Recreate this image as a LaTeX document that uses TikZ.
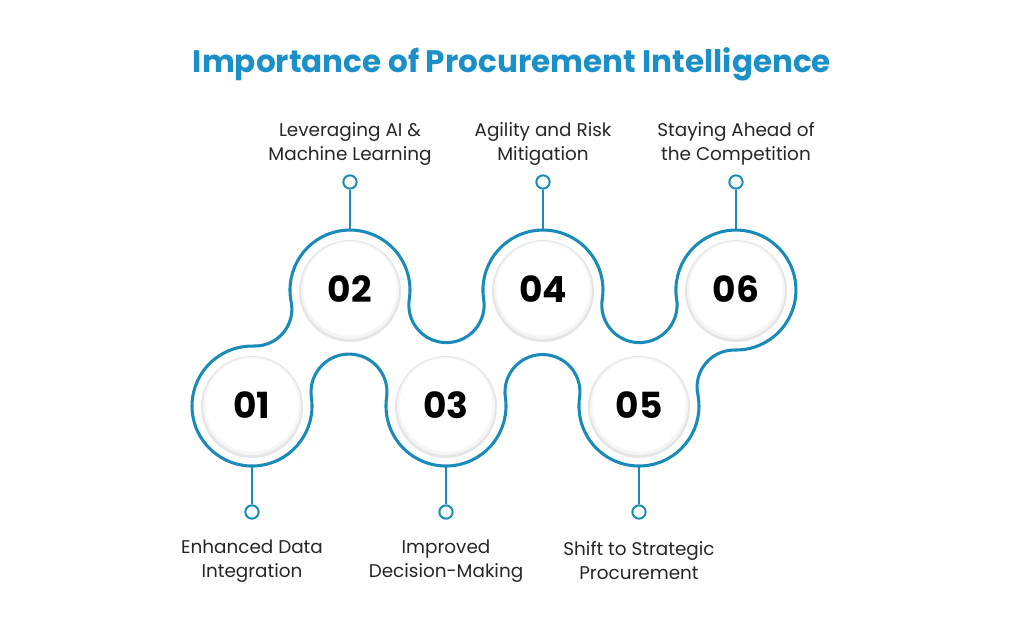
\documentclass[tikz,border=0pt]{standalone}
\usepackage{fontspec}
\setmainfont{Poppins}
\definecolor{snakeblue}{HTML}{1A8AB8}
\definecolor{titleblue}{HTML}{1B8FC7}
\tikzset{every picture/.style={line width=0.75pt}}
\tikzset{
  numdisc/.style={circle,fill=white,minimum size=70pt,inner sep=0pt},
  pin/.style={circle,draw=snakeblue,fill=white,line width=1.5pt,minimum size=10pt,inner sep=0pt},
  stem/.style={draw=snakeblue,line width=2pt},
  band/.style={draw=snakeblue,line width=2.3pt},
  lbl/.style={align=center,font=\fontsize{13.8}{18}\selectfont\mdseries,text=black!85,inner sep=0.75pt}
}
\begin{document}
\begin{tikzpicture}[x=0.75pt,y=0.75pt,yscale=-1,xscale=1]
	\useasboundingbox (0,0) rectangle (1024,627);
	
	% Title
	\node[font=\fontsize{23.3}{25}\selectfont\bfseries,text=titleblue] (title) at (512,64) {Importance of Procurement Intelligence};
	
	%Shape: snake outline
	\draw[band] (252,406) ++(271.7:60)
		arc[start angle=91.7,end angle=-11.3,radius=37]
		arc[start angle=168.7,end angle=368.8,radius=60]
		arc[start angle=188.8,end angle=-8.8,radius=37.64]
		arc[start angle=171.2,end angle=368.8,radius=60]
		arc[start angle=188.8,end angle=-8.8,radius=37.64]
		arc[start angle=171.2,end angle=451.1,radius=60]
		arc[start angle=271.1,end angle=168.7,radius=37]
		arc[start angle=-11.3,end angle=188.25,radius=60]
		arc[start angle=8.25,end angle=-188.25,radius=37.5]
		arc[start angle=-8.25,end angle=188.2,radius=60]
		arc[start angle=8.2,end angle=-188.2,radius=38]
		arc[start angle=-8.2,end angle=271.7,radius=60] -- cycle;
	
	% Number discs
	\foreach \i/\x/\y in {1/252/406,2/350/290,3/446/406,4/543/290,5/639/406,6/736/290}{
		\fill[black!10] (\x,\y+1) circle (51);
		\fill[black!4] (\x,\y) circle (49);
		\node[numdisc] (n\i) at (\x,\y-1) {};
		\node[font=\fontsize{27}{27}\selectfont\bfseries] at (n\i) {0\i};
	}
	
	% Pins
	\foreach \i/\x in {2/350,4/543,6/736}{
		\coordinate (e\i) at (\x,230);
		\node[pin] (p\i) at (\x,182) {};
		\draw[stem] (p\i) -- (e\i);
	}
	\foreach \i/\x in {1/252,3/446,5/639}{
		\coordinate (e\i) at (\x,466);
		\node[pin] (p\i) at (\x,512) {};
		\draw[stem] (p\i) -- (e\i);
	}
	
	% Text Nodes
	\node[lbl] (t2) at (350,144) {Leveraging AI \&\\Machine Learning};
	\node[lbl] (t4) at (543,144) {Agility and Risk\\Mitigation};
	\node[lbl] (t6) at (736,144) {Staying Ahead of\\the Competition};
	\node[lbl] (t1) at (252,561) {Enhanced Data\\Integration};
	\node[lbl] (t3) at (446,561) {Improved\\Decision-Making};
	\node[lbl] (t5) at (639,561) {Shift to Strategic\\Procurement};
	
\end{tikzpicture}
\end{document}
